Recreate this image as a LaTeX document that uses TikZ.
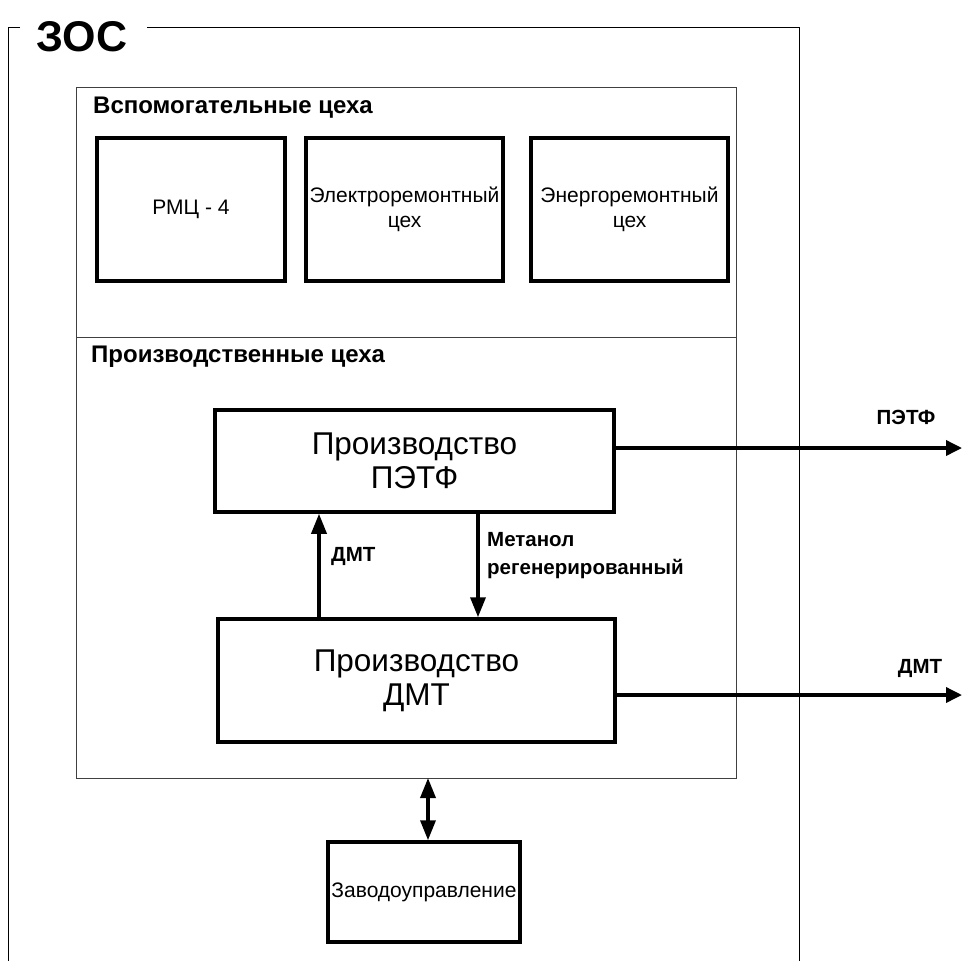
\documentclass[tikz,border=0pt]{standalone}
\usepackage{fontspec}
\setmainfont{Liberation Sans}
\usetikzlibrary{arrows.meta}
\begin{document}
\begin{tikzpicture}[x=1pt,y=-1pt,
  box/.style={draw, line width=3.5pt, align=center, inner sep=0pt, font=\fontsize{21}{25}\selectfont},
  bigbox/.style={box, font=\fontsize{31.5}{34}\selectfont},
  frame/.style={draw=black!75, line width=1pt},
  outer/.style={draw=black, line width=1pt},
  arr/.style={line width=3.5pt, -{Triangle[length=20pt,width=15pt]}},
  harr/.style={line width=3.5pt, -{Triangle[length=16pt,width=15pt]}},
  darr/.style={line width=3.5pt, {Triangle[length=20pt,width=15pt]}-{Triangle[length=20pt,width=15pt]}},
  lbl/.style={font=\bfseries\fontsize{20.5}{28}\selectfont, align=left, inner sep=0pt},
  sec/.style={font=\bfseries\fontsize{24}{28}\selectfont, anchor=west, inner sep=0pt}]
\useasboundingbox (0,0) rectangle (963,961);
% outer frame
\node[font=\bfseries\fontsize{43}{50}\selectfont, inner sep=0pt] (zos) at (82,37) {ЗОС};
\draw[outer] (20,27) -- (8,27) -- (8,961);
\draw[outer] (147,27) -- (799,27) -- (799,961);
% inner frame
\draw[frame] (76,87) rectangle (736,778);
\draw[frame] (76,337) -- (736,337);
\node[sec] (aux) at (93,108) {Вспомогательные цеха};
\node[sec] (prodsec) at (91,357) {Производственные цеха};
% auxiliary shops
\node[box, minimum width=188pt, minimum height=143pt] (rmc) at (191,209.5) {РМЦ - 4};
\node[box, minimum width=197pt, minimum height=143pt] (elec) at (404.5,209.5) {Электроремонтный\\цех};
\node[box, minimum width=197pt, minimum height=143pt] (energ) at (629.5,209.5) {Энергоремонтный\\цех};
% production
\node[bigbox, minimum width=399pt, minimum height=102pt] (petf) at (414.5,461) {Производство\\ПЭТФ};
\node[bigbox, minimum width=397pt, minimum height=123pt] (dmt) at (416.5,680.5) {Производство\\ДМТ};
\node[box, minimum width=192pt, minimum height=100pt] (zav) at (424,892) {Заводоуправление};
% connectors
\coordinate (xd) at (319,0);
\coordinate (xm) at (478,0);
\coordinate (po) at (962,448);
\coordinate (do) at (962,695);
\coordinate (ib) at (428,778);
\draw[arr] (dmt.north -| xd) -- (petf.south -| xd);
\draw[arr] (petf.south -| xm) -- (dmt.north -| xm);
\draw[harr] (petf.east |- po) -- (po);
\draw[harr] (dmt.east |- do) -- (do);
\draw[darr] (ib) -- (zav.north -| ib);
% labels
\node[lbl, anchor=west] (ldmt) at (331,556) {ДМТ};
\node[lbl, anchor=north west] (lmet) at (487,532) {Метанол\\регенерированный};
\node[lbl] (lpetf) at (906,417) {ПЭТФ};
\node[lbl] (ldmt2) at (920,668) {ДМТ};
\end{tikzpicture}
\end{document}
